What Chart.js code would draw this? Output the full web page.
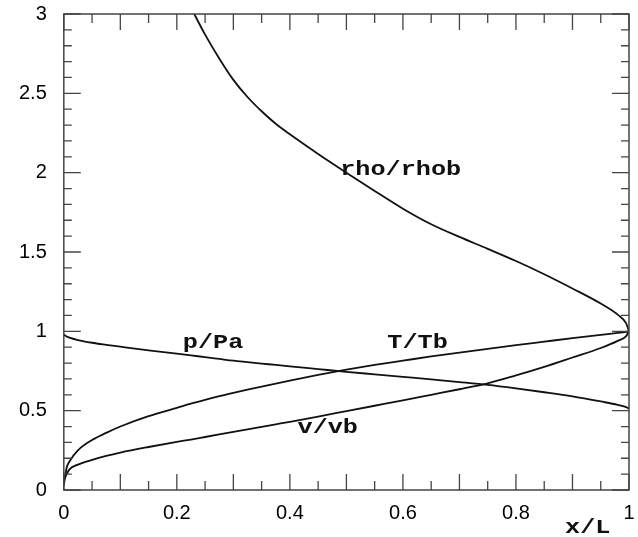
<!DOCTYPE html>
<html>
<head>
<meta charset="utf-8">
<script src="https://cdn.jsdelivr.net/npm/chart.js@4"></script>
<style>
  html, body { margin: 0; background: #fff; }
</style>
</head>
<body>
<canvas id="grafico" width="638" height="537"></canvas>
<script>
// perfiles a lo largo del conducto, x/L de 0 a 1
const xs      = [0, 0.005, 0.01, 0.025, 0.05, 0.075, 0.1, 0.15, 0.2, 0.225, 0.25, 0.275, 0.3, 0.325, 0.35, 0.375, 0.4, 0.45, 0.5, 0.55, 0.6, 0.65, 0.7, 0.75, 0.8, 0.85, 0.9, 0.95, 0.98, 0.995, 1];
const rho     = [null, null, null, null, null, null, null, null, null, 3.04, 2.87, 2.72, 2.585, 2.477, 2.387, 2.308, 2.242, 2.118, 2.0, 1.885, 1.773, 1.675, 1.595, 1.52, 1.443, 1.36, 1.27, 1.175, 1.105, 1.05, 1.0];
const presion = [0.98, 0.968, 0.96, 0.945, 0.928, 0.915, 0.903, 0.88, 0.86, 0.849, 0.837, 0.826, 0.815, 0.806, 0.797, 0.788, 0.779, 0.762, 0.745, 0.729, 0.713, 0.697, 0.68, 0.662, 0.64, 0.616, 0.59, 0.558, 0.537, 0.522, 0.513];
const temp    = [0.03, 0.14, 0.18, 0.25, 0.315, 0.36, 0.40, 0.465, 0.518, 0.544, 0.568, 0.591, 0.612, 0.632, 0.651, 0.670, 0.689, 0.725, 0.758, 0.788, 0.815, 0.842, 0.866, 0.89, 0.913, 0.935, 0.957, 0.978, 0.99, 0.997, 1.0];
const vel     = [0.06, 0.10, 0.13, 0.16, 0.19, 0.215, 0.236, 0.271, 0.303, 0.318, 0.334, 0.35, 0.366, 0.382, 0.398, 0.414, 0.43, 0.463, 0.497, 0.531, 0.565, 0.60, 0.635, 0.672, 0.722, 0.776, 0.835, 0.895, 0.94, 0.97, 1.0];

// etiquetas de las curvas (en unidades de los ejes)
const etiquetas = ["rho/rhob", "p/Pa", "T/Tb", "v/vb", "x/L"];
const etiqX = [0.596, 0.264, 0.626, 0.467, 0.927];
const etiqY = [2.015, 0.925, 0.925, 0.389, -0.241];

const puntos = (ys) => xs.map((x, i) => ({ x: x, y: ys[i] }));

const serie = (nombre, ys) => ({
  label: nombre,
  data: puntos(ys),
  borderColor: "#111",
  borderWidth: 1.8,
  pointRadius: 0,
  cubicInterpolationMode: "monotone",
  spanGaps: false,
});

// sin ceros de sobra: 3, 2.5, 1 ...
const numero = (v) => String(Number(v.toFixed(2)));

// la separación entre eje y números se hace con marcas invisibles
const rejilla = (largo) => ({
  display: true,
  drawOnChartArea: false,
  drawTicks: true,
  tickLength: largo,
  color: "rgba(0,0,0,0)",
});

// marco y marcas hacia adentro en los cuatro lados
const marco = {
  id: "marco",
  afterDatasetsDraw(chart) {
    const { ctx, chartArea: a, scales } = chart;
    ctx.save();
    ctx.strokeStyle = "#444";
    ctx.lineWidth = 1.5;
    ctx.strokeRect(a.left, a.top, a.right - a.left, a.bottom - a.top);
    ctx.lineWidth = 1.3;
    ctx.beginPath();
    for (let i = 0; i <= 20; i++) {
      const px = scales.x.getPixelForValue(i * 0.05);
      const l = i % 2 === 0 ? 16 : 9;
      ctx.moveTo(px, a.bottom); ctx.lineTo(px, a.bottom - l);
      ctx.moveTo(px, a.top); ctx.lineTo(px, a.top + l);
    }
    for (let i = 0; i <= 30; i++) {
      const py = scales.y.getPixelForValue(i * 0.1);
      const l = i % 5 === 0 ? 17 : 8;
      ctx.moveTo(a.left, py); ctx.lineTo(a.left + l, py);
      ctx.moveTo(a.right, py); ctx.lineTo(a.right - l, py);
    }
    ctx.stroke();

    ctx.fillStyle = "#111";
    ctx.font = "bold 20px 'Liberation Mono'";
    ctx.textAlign = "center";
    ctx.textBaseline = "middle";
    etiquetas.forEach((t, i) => {
      const px = scales.x.getPixelForValue(etiqX[i]);
      const py = scales.y.getPixelForValue(etiqY[i]);
      ctx.save();
      ctx.translate(px, py);
      ctx.scale(1.26, 1);
      ctx.fillText(t, 0, 0);
      ctx.restore();
    });
    ctx.restore();
  },
};

let ctx1 = document.getElementById("grafico").getContext("2d");
let graf = new Chart(ctx1, {
  type: "line",
  data: {
    datasets: [
      serie("rho/rhob", rho),
      serie("p/Pa", presion),
      serie("T/Tb", temp),
      serie("v/vb", vel),
    ],
  },
  options: {
    responsive: false,
    animation: false,
    layout: { padding: { left: 19, right: 9, top: 14, bottom: 12 } },
    plugins: {
      legend: { display: false },
      tooltip: { enabled: false },
    },
    scales: {
      x: {
        type: "linear",
        min: 0,
        max: 1,
        grid: rejilla(11),
        border: { display: false },
        ticks: {
          stepSize: 0.2,
          padding: 0,
          maxRotation: 0,
          color: "#000",
          font: { family: "'Liberation Sans'", size: 20 },
          callback: numero,
        },
      },
      y: {
        min: 0,
        max: 3,
        grid: rejilla(17),
        border: { display: false },
        ticks: {
          stepSize: 0.5,
          padding: 0,
          color: "#000",
          font: { family: "'Liberation Sans'", size: 20 },
          callback: numero,
        },
      },
    },
  },
  plugins: [marco],
});
</script>
</body>
</html>
